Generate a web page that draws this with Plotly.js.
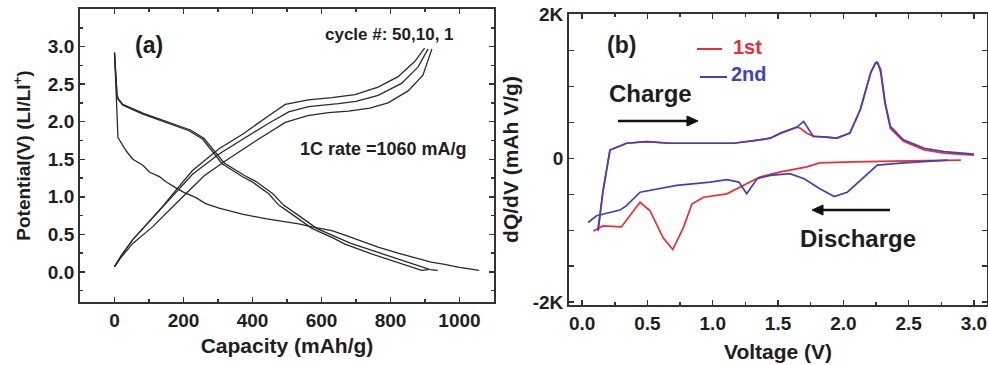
<!DOCTYPE html>
<html>
<head>
<meta charset="utf-8">
<script src="https://cdn.plot.ly/plotly-3.0.1.min.js"></script>
<style>html,body{margin:0;padding:0;background:#fff;}#chart{width:988px;height:365px;}</style>
</head>
<body>
<div id="chart"></div>
<script>
// ---------- Panel (a): capacity (mAh/g) vs potential (V) ----------
var capDis50 = [0, 3, 7, 10, 24, 82, 149, 216, 255, 283, 312, 370, 399, 447, 476, 514, 572, 630, 668, 745, 822, 860, 890, 909];
var vDis50   = [2.90, 2.60, 2.36, 2.30, 2.22, 2.10, 1.99, 1.88, 1.77, 1.61, 1.44, 1.27, 1.20, 1.04, 0.89, 0.77, 0.58, 0.46, 0.37, 0.24, 0.12, 0.06, 0.02, 0.03];
var capDis10 = [0, 3, 7, 10, 24, 84, 152, 220, 259, 288, 318, 378, 408, 459, 490, 528, 586, 645, 685, 764, 840, 880, 915, 937];
var vDis10   = [2.92, 2.62, 2.38, 2.31, 2.23, 2.11, 2.00, 1.89, 1.78, 1.62, 1.45, 1.28, 1.21, 1.04, 0.89, 0.77, 0.58, 0.46, 0.38, 0.26, 0.14, 0.08, 0.03, 0.02];
var capDis1  = [0, 3, 6, 10, 34, 53, 82, 101, 130, 149, 178, 201, 236, 264, 303, 341, 370, 437, 534, 572, 630, 668, 716, 764, 822, 860, 918, 957, 1000, 1057];
var vDis1    = [2.92, 2.60, 2.10, 1.79, 1.61, 1.50, 1.42, 1.33, 1.27, 1.20, 1.12, 1.06, 0.99, 0.91, 0.85, 0.80, 0.77, 0.71, 0.64, 0.60, 0.55, 0.49, 0.41, 0.33, 0.25, 0.20, 0.13, 0.10, 0.06, 0.02];

var capCh50 = [0, 20, 53, 91, 139, 178, 226, 303, 370, 447, 495, 562, 630, 697, 764, 822, 870, 899];
var vCh50   = [0.07, 0.22, 0.43, 0.62, 0.87, 1.09, 1.35, 1.64, 1.83, 2.08, 2.23, 2.29, 2.32, 2.36, 2.46, 2.60, 2.80, 2.98];
var capCh10 = [0, 20, 53, 91, 139, 178, 226, 303, 370, 447, 505, 562, 649, 700, 764, 832, 880, 909];
var vCh10   = [0.07, 0.22, 0.43, 0.62, 0.86, 1.06, 1.30, 1.57, 1.76, 1.98, 2.13, 2.20, 2.24, 2.27, 2.35, 2.51, 2.73, 2.97];
var capCh1  = [0, 20, 53, 110, 187, 207, 260, 322, 418, 495, 560, 620, 678, 740, 793, 851, 894, 920];
var vCh1    = [0.07, 0.20, 0.38, 0.60, 0.95, 1.04, 1.28, 1.48, 1.77, 1.99, 2.08, 2.12, 2.14, 2.18, 2.25, 2.41, 2.62, 2.97];

// ---------- Panel (b): voltage (V) vs dQ/dV ----------
var vChRed  = [0.123, 0.16, 0.213, 0.34, 0.494, 0.673, 0.90, 1.16, 1.36, 1.44, 1.52, 1.645, 1.67, 1.72, 1.77, 1.85, 1.95, 2.05, 2.13, 2.21, 2.245, 2.265, 2.285, 2.32, 2.36, 2.46, 2.62, 2.77, 3.0];
var dqChRed = [-1010, -450, 117, 211, 234, 211, 211, 211, 258, 282, 352, 436, 420, 350, 310, 300, 282, 352, 680, 1197, 1330, 1330, 1200, 760, 420, 240, 120, 75, 45];
var vChBlue  = [0.12, 0.16, 0.213, 0.34, 0.494, 0.673, 0.90, 1.16, 1.36, 1.44, 1.52, 1.645, 1.696, 1.74, 1.77, 1.85, 1.95, 2.05, 2.13, 2.21, 2.254, 2.285, 2.32, 2.36, 2.46, 2.62, 2.77, 3.0];
var dqChBlue = [-1000, -450, 117, 211, 234, 211, 211, 211, 258, 282, 352, 436, 515, 400, 305, 300, 282, 352, 680, 1197, 1347, 1243, 775, 445, 258, 141, 94, 61];

var vDisRed  = [0.085, 0.16, 0.30, 0.443, 0.52, 0.62, 0.694, 0.775, 0.84, 0.93, 1.108, 1.26, 1.36, 1.52, 1.59, 1.72, 1.82, 2.08, 2.50, 2.90];
var dqDisRed = [-1010, -939, -953, -611, -728, -1104, -1268, -963, -634, -540, -493, -352, -259, -188, -164, -118, -62, -47, -35, -24];
var vDisBlue  = [0.046, 0.11, 0.29, 0.34, 0.443, 0.724, 0.98, 1.108, 1.20, 1.26, 1.34, 1.44, 1.59, 1.70, 1.82, 1.93, 2.03, 2.16, 2.26, 2.46, 2.80];
var dqDisBlue = [-892, -798, -718, -658, -470, -376, -329, -296, -330, -493, -282, -235, -211, -282, -422, -531, -470, -259, -94, -62, -24];

var dqTickVals = [-2000, 0, 2000];
var dqTickText = ['-2K', '0', '2K'];

var FONT = 'Liberation Sans, Arial, sans-serif';
var INK = '#1e1e1e';
var RED = '#ef2b33';
var BLUE = '#4040c0';

function blk(x, y) {
  return {x: x, y: y, type: 'scatter', mode: 'lines', xaxis: 'x', yaxis: 'y',
          line: {color: '#2a2a2a', width: 1.3}, showlegend: false, hoverinfo: 'skip'};
}
function col(x, y, c, name) {
  return {x: x, y: y, type: 'scatter', mode: 'lines', xaxis: 'x2', yaxis: 'y2', name: name,
          line: {color: c, width: 1.7}, showlegend: false, hoverinfo: 'skip'};
}

var traces = [
  blk(capDis50, vDis50), blk(capDis10, vDis10), blk(capDis1, vDis1),
  blk(capCh50, vCh50), blk(capCh10, vCh10), blk(capCh1, vCh1),
  col(vDisRed, dqDisRed, RED, '1st'),
  col(vChRed, dqChRed, RED, '1st'),
  col(vDisBlue, dqDisBlue, BLUE, '2nd'),
  col(vChBlue, dqChBlue, BLUE, '2nd')
];

var tickFont = {family: FONT, size: 19, color: INK, weight: 700};
var titleFont = {family: FONT, size: 21, color: INK, weight: 700};
var axBase = {
  showline: true, mirror: 'ticks', linecolor: '#333', linewidth: 2,
  ticks: 'inside', ticklen: 5, tickwidth: 1.5, tickcolor: '#333',
  showgrid: false, zeroline: false, tickfont: tickFont, automargin: false
};
function ax(extra) { return Object.assign({}, axBase, extra); }

var ann = function (text, x, y, xr, yr, size, color) {
  return {text: text, x: x, y: y, xref: xr, yref: yr, showarrow: false,
          xanchor: 'center', yanchor: 'middle',
          font: {family: FONT, size: size, color: color || INK, weight: 700}};
};
var W = 988, H = 365;
function px(v) { return v / W; }
function py(v) { return (H - v) / H; }
function pt(x, y) { return px(x) + ',' + py(y); }

var layout = {
  width: W, height: H,
  margin: {l: 0, r: 0, t: 0, b: 0},
  paper_bgcolor: '#fff', plot_bgcolor: '#fff',
  showlegend: false,
  xaxis: ax({domain: [0.081, 0.5], range: [-100, 1100], dtick: 200, anchor: 'y',
             minor: {dtick: 100, ticks: 'inside', ticklen: 3, tickcolor: '#333'},
             title: {text: 'Capacity (mAh/g)', font: titleFont, standoff: 8}}),
  yaxis: ax({domain: [0.1726, 0.9753], range: [-0.4, 3.5], dtick: 0.5, tickformat: '.1f', anchor: 'x',
             minor: {dtick: 0.25, ticks: 'inside', ticklen: 3, tickcolor: '#333'},
             title: {text: 'Potential(V) (LI/LI<sup>+</sup>)', font: Object.assign({}, titleFont, {size: 19}), standoff: 12}}),
  xaxis2: ax({domain: [0.576, 0.999], range: [-0.1, 3.1], dtick: 0.5, tickformat: '.1f', anchor: 'y2',
              minor: {dtick: 0.25, ticks: 'inside', ticklen: 3, tickcolor: '#333'},
              title: {text: 'Voltage (V)', font: titleFont, standoff: 12}}),
  yaxis2: ax({domain: [0.1644, 0.9616], range: [-2040, 2010], anchor: 'x2',
              tickmode: 'array', tickvals: dqTickVals, ticktext: dqTickText,
              minor: {dtick: 500, tick0: 0, ticks: 'inside', ticklen: 5, tickwidth: 1.5, tickcolor: '#333'},
              title: {text: 'dQ/dV (mAh V/g)', font: titleFont, standoff: 8}}),
  shapes: [
    {type: 'line', xref: 'paper', yref: 'paper', x0: px(697), x1: px(722), y0: py(49), y1: py(49),
     line: {color: RED, width: 2}},
    {type: 'line', xref: 'paper', yref: 'paper', x0: px(700), x1: px(727), y0: py(77), y1: py(77),
     line: {color: BLUE, width: 2}},
    {type: 'line', xref: 'paper', yref: 'paper', x0: px(618), x1: px(689), y0: py(121), y1: py(121),
     line: {color: '#111', width: 2.5}},
    {type: 'path', xref: 'paper', yref: 'paper', path: 'M' + pt(698, 121) + 'L' + pt(687, 116) + 'L' + pt(687, 126) + 'Z',
     fillcolor: '#111', line: {color: '#111', width: 1}},
    {type: 'line', xref: 'paper', yref: 'paper', x0: px(890), x1: px(821), y0: py(210), y1: py(210),
     line: {color: '#111', width: 2.5}},
    {type: 'path', xref: 'paper', yref: 'paper', path: 'M' + pt(812, 210) + 'L' + pt(823, 205) + 'L' + pt(823, 215) + 'Z',
     fillcolor: '#111', line: {color: '#111', width: 1}}
  ],
  annotations: [
    ann('(a)', 101, 3.02, 'x', 'y', 23),
    ann('cycle #: 50,10, 1', 797, 3.16, 'x', 'y', 17),
    ann('1C rate =1060 mA/g', 779, 1.64, 'x', 'y', 18),
    ann('(b)', 0.30, 1576, 'x2', 'y2', 23),
    ann('1st', px(747), py(47), 'paper', 'paper', 20, RED),
    ann('2nd', px(749), py(74), 'paper', 'paper', 20, BLUE),
    ann('Charge', 0.52, 908, 'x2', 'y2', 24),
    ann('Discharge', 2.11, -1108, 'x2', 'y2', 24)
  ]
};

Plotly.newPlot('chart', traces, layout, {staticPlot: true, displayModeBar: false});
</script>
</body>
</html>
